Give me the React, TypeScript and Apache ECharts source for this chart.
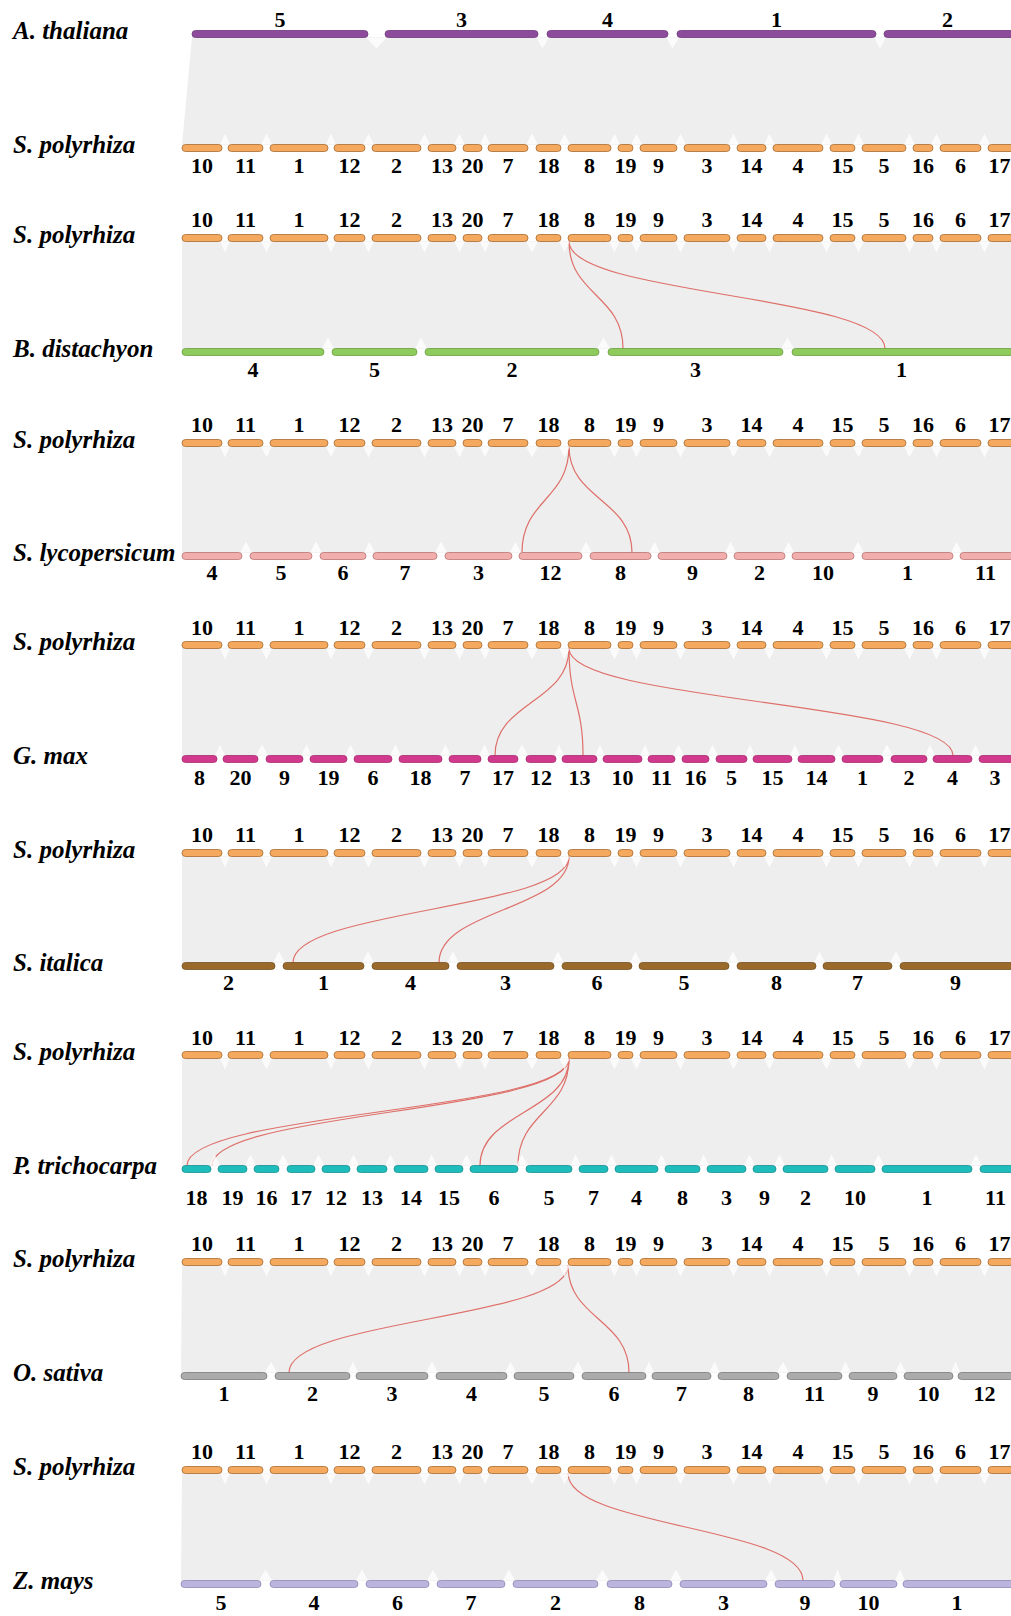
import React, { useEffect, useRef } from 'react';
import * as echarts from 'echarts';

type Chr = [string, number, number];

// ---- chromosome tracks: [label, start, end] along the shared x scale ----
const A_THALIANA: Chr[] = [['5', 192, 368], ['3', 385, 538], ['4', 547, 668], ['1', 677, 876], ['2', 884, 1040]];
const S_POLYRHIZA: Chr[] = [
  ['10', 182, 222], ['11', 228, 263], ['1', 270, 328], ['12', 334, 365], ['2', 372, 421], ['13', 428, 456],
  ['20', 463, 482], ['7', 488, 528], ['18', 536, 561], ['8', 568, 611], ['19', 618, 633], ['9', 640, 677],
  ['3', 684, 730], ['14', 737, 766], ['4', 773, 823], ['15', 830, 855], ['5', 862, 906], ['16', 913, 933],
  ['6', 940, 981], ['17', 988, 1040],
];
const B_DISTACHYON: Chr[] = [['4', 182, 324], ['5', 332, 417], ['2', 425, 599], ['3', 608, 783], ['1', 792, 1040]];
const S_LYCOPERSICUM: Chr[] = [
  ['4', 182, 242], ['5', 250, 312], ['6', 320, 366], ['7', 373, 437], ['3', 445, 512], ['12', 519, 582],
  ['8', 590, 651], ['9', 658, 727], ['2', 734, 785], ['10', 792, 854], ['1', 862, 953], ['11', 960, 1040],
];
const G_MAX: Chr[] = [
  ['8', 182, 217], ['20', 223, 258], ['9', 266, 303], ['19', 310, 347], ['6', 354, 392], ['18', 399, 442],
  ['7', 449, 481], ['17', 488, 518], ['12', 526, 556], ['13', 562, 597], ['10', 603, 642], ['11', 648, 675],
  ['16', 682, 709], ['5', 716, 747], ['15', 753, 792], ['14', 798, 835], ['1', 842, 883], ['2', 891, 927],
  ['4', 933, 972], ['3', 979, 1040],
];
const S_ITALICA: Chr[] = [
  ['2', 182, 275], ['1', 283, 364], ['4', 372, 449], ['3', 457, 554], ['6', 562, 632], ['5', 639, 729],
  ['8', 737, 816], ['7', 823, 892], ['9', 900, 1040],
];
const P_TRICHOCARPA: Chr[] = [
  ['18', 182, 211], ['19', 218, 247], ['16', 254, 279], ['17', 287, 315], ['12', 322, 350], ['13', 357, 387],
  ['14', 394, 428], ['15', 435, 463], ['6', 470, 518], ['5', 526, 572], ['7', 579, 608], ['4', 615, 658],
  ['8', 665, 700], ['3', 707, 746], ['9', 753, 776], ['2', 783, 828], ['10', 835, 875], ['1', 882, 972],
  ['11', 980, 1040],
];
const O_SATIVA: Chr[] = [
  ['1', 181, 267], ['2', 275, 350], ['3', 356, 428], ['4', 436, 507], ['5', 514, 574], ['6', 582, 646],
  ['7', 652, 711], ['8', 718, 779], ['11', 787, 842], ['9', 849, 897], ['10', 904, 953], ['12', 958, 1040],
];
const Z_MAYS: Chr[] = [
  ['5', 181, 261], ['4', 270, 358], ['6', 366, 429], ['7', 437, 505], ['2', 513, 598], ['8', 607, 672],
  ['3', 680, 767], ['9', 775, 835], ['10', 840, 897], ['1', 903, 1040],
];

// ---- highlighted collinear links: [S. polyrhiza position, partner position] ----
const LINKS_BD: [number, number][] = [[569, 623], [569, 885]];
const LINKS_SL: [number, number][] = [[569, 522], [569, 632]];
const LINKS_GM: [number, number][] = [[569, 495], [569, 583], [569, 953]];
const LINKS_SI: [number, number][] = [[569, 293], [569, 439]];
const LINKS_PT: [number, number][] = [[569, 187], [569, 212], [569, 480], [569, 518]];
const LINKS_OS: [number, number][] = [[568, 289], [568, 629]];
const LINKS_ZM: [number, number][] = [[568, 803]];

// ---- layout / style ----
const W = 1011;
const H = 1616;
const X_MAX = 1011;
const BAR_H = 7;
const SERIF = '"Liberation Serif", "Times New Roman", Times, serif';

const SP_STYLE = { color: '#f4a95e', stroke: '#a86a2e' };

const ROWS = [
  { name: 'A. thaliana', y: 34, chrs: A_THALIANA, color: '#8d4b9b', stroke: '#70387c', labelDy: -15 },
  { name: 'S. polyrhiza', y: 148, chrs: S_POLYRHIZA, ...SP_STYLE, labelDy: 17 },
  { name: 'S. polyrhiza', y: 238, chrs: S_POLYRHIZA, ...SP_STYLE, labelDy: -19 },
  { name: 'B. distachyon', y: 352, chrs: B_DISTACHYON, color: '#8fca5c', stroke: '#6a9e40', labelDy: 17 },
  { name: 'S. polyrhiza', y: 443, chrs: S_POLYRHIZA, ...SP_STYLE, labelDy: -19 },
  { name: 'S. lycopersicum', y: 556, chrs: S_LYCOPERSICUM, color: '#f2aeac', stroke: '#b97472', labelDy: 16 },
  { name: 'S. polyrhiza', y: 645, chrs: S_POLYRHIZA, ...SP_STYLE, labelDy: -18 },
  { name: 'G. max', y: 759, chrs: G_MAX, color: '#d13a8c', stroke: '#a82a6e', labelDy: 18 },
  { name: 'S. polyrhiza', y: 853, chrs: S_POLYRHIZA, ...SP_STYLE, labelDy: -19 },
  { name: 'S. italica', y: 966, chrs: S_ITALICA, color: '#9a6a2c', stroke: '#765020', labelDy: 16 },
  { name: 'S. polyrhiza', y: 1055, chrs: S_POLYRHIZA, ...SP_STYLE, labelDy: -18 },
  { name: 'P. trichocarpa', y: 1169, chrs: P_TRICHOCARPA, color: '#1fbcbc', stroke: '#178f8f', labelDy: 28 },
  { name: 'S. polyrhiza', y: 1262, chrs: S_POLYRHIZA, ...SP_STYLE, labelDy: -19 },
  { name: 'O. sativa', y: 1376, chrs: O_SATIVA, color: '#ababab', stroke: '#7a7a7a', labelDy: 17 },
  { name: 'S. polyrhiza', y: 1470, chrs: S_POLYRHIZA, ...SP_STYLE, labelDy: -19 },
  { name: 'Z. mays', y: 1584, chrs: Z_MAYS, color: '#bbb4dd', stroke: '#9088b8', labelDy: 18 },
];

const PAIRS = [
  { top: 0, bottom: 1, links: [] as [number, number][] },
  { top: 2, bottom: 3, links: LINKS_BD },
  { top: 4, bottom: 5, links: LINKS_SL },
  { top: 6, bottom: 7, links: LINKS_GM },
  { top: 8, bottom: 9, links: LINKS_SI },
  { top: 10, bottom: 11, links: LINKS_PT },
  { top: 12, bottom: 13, links: LINKS_OS },
  { top: 14, bottom: 15, links: LINKS_ZM },
];

export default function App() {
  const ref = useRef<HTMLDivElement>(null);

  useEffect(() => {
    if (!ref.current) return;
    const chart = echarts.init(ref.current, null, { renderer: 'svg' });
    const series: any[] = [];

    // background synteny bands
    series.push({
      type: 'custom',
      coordinateSystem: 'cartesian2d',
      silent: true,
      z: 1,
      data: PAIRS.map((p) => [ROWS[p.top].chrs[0][1], ROWS[p.bottom].chrs[0][1], ROWS[p.top].y, ROWS[p.bottom].y]),
      encode: { x: [0, 1], y: [2, 3] },
      renderItem: (_params: any, api: any) => {
        const tl = api.coord([api.value(0), api.value(2)]);
        const bl = api.coord([api.value(1), api.value(3)]);
        const tr = api.coord([X_MAX, api.value(2)]);
        const br = api.coord([X_MAX, api.value(3)]);
        return {
          type: 'polygon',
          shape: {
            points: [
              [tl[0], tl[1] + 3],
              [tr[0], tr[1] + 3],
              [br[0], br[1] - 3],
              [bl[0], bl[1] - 3],
            ],
          },
          style: { fill: '#eeeeee' },
        };
      },
    });

    // highlighted links
    PAIRS.forEach((p) => {
      if (!p.links.length) return;
      const ty = ROWS[p.top].y;
      const by = ROWS[p.bottom].y;
      series.push({
        type: 'custom',
        coordinateSystem: 'cartesian2d',
        silent: true,
        z: 2,
        data: p.links.map((l) => [l[0], l[1], ty, by]),
        encode: { x: [0, 1], y: [2, 3] },
        renderItem: (_params: any, api: any) => {
          const a = api.coord([api.value(0), api.value(2)]);
          const b = api.coord([api.value(1), api.value(3)]);
          const y1 = a[1] + BAR_H / 2;
          const y2 = b[1] - BAR_H / 2;
          const my = (y1 + y2) / 2;
          return {
            type: 'bezierCurve',
            shape: { x1: a[0], y1, x2: b[0], y2, cpx1: a[0], cpy1: my, cpx2: b[0], cpy2: my },
            style: { stroke: '#de6f69', fill: null, lineWidth: 1.2 },
          };
        },
      });
    });

    // chromosome bars with numbers
    ROWS.forEach((row, ri) => {
      const notch = ri % 2 === 0 ? 1 : -1;
      series.push({
        type: 'custom',
        coordinateSystem: 'cartesian2d',
        silent: true,
        z: 3,
        data: row.chrs.map((c) => [c[1], c[2], row.y]),
        encode: { x: [0, 1], y: 2 },
        renderItem: (params: any, api: any) => {
          const i = params.dataIndex;
          const s = api.coord([api.value(0), api.value(2)]);
          const e = api.coord([api.value(1), api.value(2)]);
          const edge = api.coord([X_MAX, api.value(2)])[0];
          const cx = (s[0] + Math.min(e[0], edge)) / 2;
          const children: any[] = [];
          const next = row.chrs[i + 1];
          if (next) {
            const ns = api.coord([next[1], api.value(2)]);
            const gx = (e[0] + ns[0]) / 2;
            const yb = s[1] + (notch * BAR_H) / 2;
            children.push({
              type: 'polygon',
              shape: { points: [[e[0] - 2, yb], [ns[0] + 2, yb], [gx, yb + notch * 11]] },
              style: { fill: '#ffffff', opacity: 0.75 },
            });
          }
          children.push({
            type: 'rect',
            shape: { x: s[0], y: s[1] - BAR_H / 2, width: e[0] - s[0], height: BAR_H, r: BAR_H / 2 },
            style: { fill: row.color, stroke: row.stroke, lineWidth: 0.8 },
          });
          children.push({
            type: 'text',
            x: cx,
            y: s[1] + row.labelDy,
            style: {
              text: row.chrs[i][0],
              fontFamily: SERIF,
              fontWeight: 'bold',
              fontSize: 22,
              fill: '#000000',
              align: 'center',
              verticalAlign: 'middle',
            },
          });
          return { type: 'group', children };
        },
      });
    });

    // species names
    series.push({
      type: 'custom',
      coordinateSystem: 'cartesian2d',
      silent: true,
      z: 4,
      data: ROWS.map((r) => [13, r.y]),
      encode: { x: 0, y: 1 },
      renderItem: (params: any, api: any) => {
        const p = api.coord([api.value(0), api.value(1)]);
        return {
          type: 'text',
          x: p[0],
          y: p[1] - 4,
          style: {
            text: ROWS[params.dataIndex].name,
            fontFamily: SERIF,
            fontWeight: 'bold',
            fontStyle: 'italic',
            fontSize: 25,
            fill: '#000000',
            align: 'left',
            verticalAlign: 'middle',
          },
        };
      },
    });

    chart.setOption({
      animation: false,
      backgroundColor: '#ffffff',
      grid: { left: 0, right: 0, top: 0, bottom: 0 },
      xAxis: { type: 'value', min: 0, max: X_MAX, show: false },
      yAxis: { type: 'value', min: 0, max: H, inverse: true, show: false },
      tooltip: { show: false },
      series,
    });

    return () => chart.dispose();
  }, []);

  return (
    <div
      ref={ref}
      style={{ position: 'absolute', left: 0, top: 0, width: W, height: H, background: '#fff' }}
    />
  );
}
